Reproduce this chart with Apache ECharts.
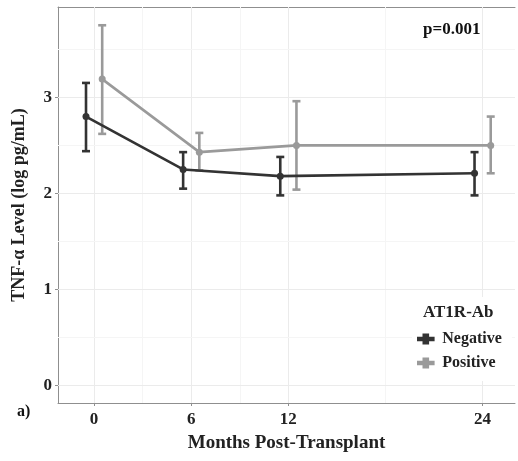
<!DOCTYPE html>
<html>
<head>
<meta charset="utf-8">
<script src="https://cdn.jsdelivr.net/npm/echarts@6/dist/echarts.min.js"></script>
<style>html,body{margin:0;padding:0;background:#fff}#c{width:518px;height:461px}</style>
</head>
<body>
<div id="c"></div>
<script>
var months = [0, 6, 12, 24];
var tickLabels = ['0', '6', '12', '24'];
var yTicks = [0, 1, 2, 3];
var negMean = [2.80, 2.25, 2.18, 2.21];
var negLow  = [2.44, 2.05, 1.98, 1.98];
var negHigh = [3.15, 2.43, 2.38, 2.43];
var posMean = [3.19, 2.43, 2.50, 2.50];
var posLow  = [2.62, 2.24, 2.04, 2.21];
var posHigh = [3.75, 2.63, 2.96, 2.80];
var dodge = 0.5;

var FONT = "'Liberation Serif','Times New Roman',serif";
var DARK = '#333333', LIGHT = '#9a9a9a';

function pts(mean, off) { return months.map(function (m, i) { return [m + off, mean[i]]; }); }
function bars(lo, hi, off) { return months.map(function (m, i) { return [m + off, lo[i], hi[i]]; }); }

function errRender(color) {
  return function (params, api) {
    var x = api.value(0), lo = api.value(1), hi = api.value(2);
    var a = api.coord([x, lo]), b = api.coord([x, hi]);
    var w = 4;
    var st = { stroke: color, lineWidth: 2.6 };
    return { type: 'group', children: [
      { type: 'line', shape: { x1: a[0], y1: a[1], x2: b[0], y2: b[1] }, style: st },
      { type: 'line', shape: { x1: a[0] - w, y1: a[1], x2: a[0] + w, y2: a[1] }, style: st },
      { type: 'line', shape: { x1: b[0] - w, y1: b[1], x2: b[0] + w, y2: b[1] }, style: st }
    ]};
  };
}

var majorX = [0, 6, 12, 24], minorX = [3, 9, 18];
var majorY = [0, 1, 2, 3], minorY = [0.5, 1.5, 2.5, 3.5];
var MAJ = { color: '#ebebeb', width: 1, type: 'solid' }, MIN = { color: '#f5f5f5', width: 1, type: 'solid' };
var gridLines = []
  .concat(majorX.map(function (v) { return { xAxis: v, lineStyle: MAJ }; }))
  .concat(minorX.map(function (v) { return { xAxis: v, lineStyle: MIN }; }))
  .concat(majorY.map(function (v) { return { yAxis: v, lineStyle: MAJ }; }))
  .concat(minorY.map(function (v) { return { yAxis: v, lineStyle: MIN }; }));

var ICON = 'path://M0,3 H5 V0 H11 V3 H16 V7 H11 V10 H5 V7 H0 Z';
var AXC = '#8f8f8f';

var chart = echarts.init(document.getElementById('c'), null, { renderer: 'canvas' });
chart.setOption({
  animation: false,
  backgroundColor: '#fff',
  grid: { left: 58, top: 7, right: 3, bottom: 58, containLabel: false },
  title: [
    { text: 'p=0.001', left: 423, top: 21, z: 10, textStyle: { fontFamily: FONT, fontWeight: 'bold', fontSize: 17, color: '#111' }, padding: 0 },
    { text: 'AT1R-Ab', left: 423, top: 304, z: 10, textStyle: { fontFamily: FONT, fontWeight: 'bold', fontSize: 17, color: '#222' }, padding: 0 },
    { text: 'a)', left: 17, top: 404, z: 10, textStyle: { fontFamily: FONT, fontWeight: 'bold', fontSize: 16, color: '#111' }, padding: 0 }
  ],
  legend: {
    orient: 'vertical', left: 412, top: 297, z: 8,
    padding: [34, 10, 10, 5],
    backgroundColor: '#fff',
    itemWidth: 19, itemHeight: 11, itemGap: 8,
    textStyle: { fontFamily: FONT, fontWeight: 'bold', fontSize: 16, color: '#222', padding: [0, 0, 0, 2] },
    data: [
      { name: 'Negative', icon: ICON, itemStyle: { color: DARK } },
      { name: 'Positive', icon: ICON, itemStyle: { color: LIGHT } }
    ]
  },
  xAxis: [{
    type: 'value', min: -2.23, max: 26.0,
    name: 'Months Post-Transplant', nameLocation: 'middle', nameGap: 31,
    nameTextStyle: { fontFamily: FONT, fontWeight: 'bold', fontSize: 19, color: '#222' },
    axisLine: { show: true, onZero: false, lineStyle: { color: AXC, width: 1 } },
    axisTick: { show: true, length: 3, customValues: months, lineStyle: { color: AXC } },
    axisLabel: { customValues: months, formatter: function (v) { return tickLabels[months.indexOf(v)]; }, margin: 8, fontFamily: FONT, fontWeight: 'bold', fontSize: 17, color: '#222' },
    splitLine: { show: false }
  }, {
    type: 'value', position: 'top', min: -2.23, max: 26.0,
    axisLine: { show: true, onZero: false, lineStyle: { color: AXC, width: 1 } },
    axisTick: { show: false }, axisLabel: { show: false }, splitLine: { show: false }
  }],
  yAxis: {
    type: 'value', min: -0.18, max: 3.94,
    name: 'TNF-α Level (log pg/mL)', nameLocation: 'middle', nameGap: 30,
    nameTextStyle: { fontFamily: FONT, fontWeight: 'bold', fontSize: 18, color: '#222' },
    axisLine: { show: true, onZero: false, lineStyle: { color: AXC, width: 1 } },
    axisTick: { show: true, length: 3, customValues: yTicks, lineStyle: { color: AXC } },
    axisLabel: { customValues: yTicks, margin: 6, fontFamily: FONT, fontWeight: 'bold', fontSize: 17, color: '#222' },
    splitLine: { show: false }
  },
  series: [
    { name: 'grid', type: 'line', data: [], z: 1, silent: true,
      markLine: { silent: true, z: 1, symbol: 'none', label: { show: false }, data: gridLines } },
    { name: 'Negative', type: 'custom', z: 3, renderItem: errRender(DARK), data: bars(negLow, negHigh, -dodge) },
    { name: 'Positive', type: 'custom', z: 3, renderItem: errRender(LIGHT), data: bars(posLow, posHigh, dodge) },
    { name: 'Negative', type: 'line', z: 4, data: pts(negMean, -dodge), symbol: 'circle', symbolSize: 7,
      lineStyle: { color: DARK, width: 2.6 }, itemStyle: { color: DARK } },
    { name: 'Positive', type: 'line', z: 4, data: pts(posMean, dodge), symbol: 'circle', symbolSize: 7,
      lineStyle: { color: LIGHT, width: 2.6 }, itemStyle: { color: LIGHT } }
  ]
});
</script>
</body>
</html>
